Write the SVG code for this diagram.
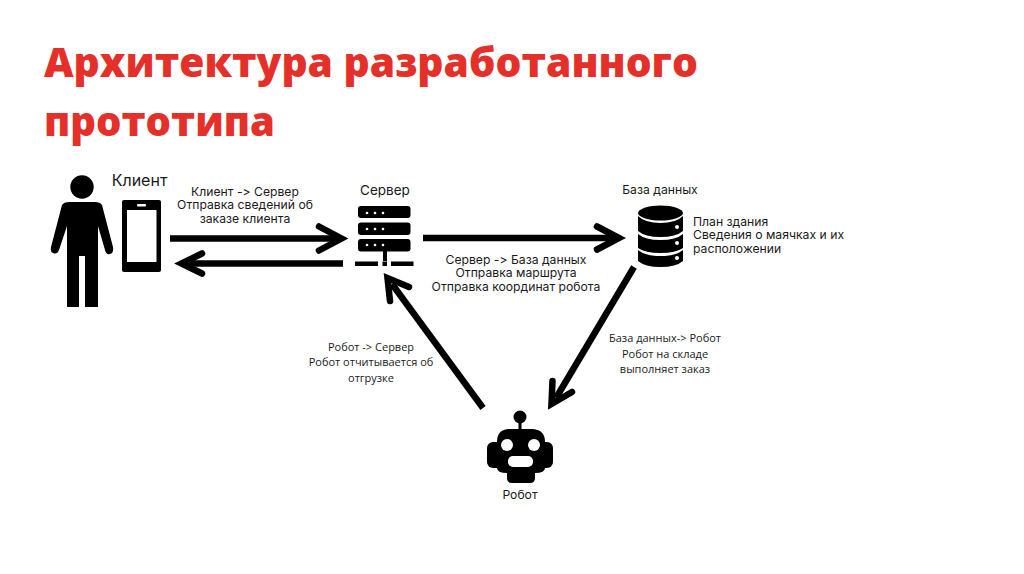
<svg xmlns="http://www.w3.org/2000/svg" width="1024" height="574" viewBox="0 0 1024 574">
<style>
.t{font-family:"Inter","Noto Sans","DejaVu Sans",sans-serif;fill:#1a1a1a;text-anchor:middle;font-size:12.2px;font-variant-ligatures:none;font-feature-settings:"calt" 0,"liga" 0}
.l{text-anchor:start}
.o{font-family:"Open Sans","Noto Sans",sans-serif;font-size:11px}
.h{font-family:"Open Sans","Noto Sans",sans-serif;font-weight:800;font-size:41.500px;fill:#e5302a}
.c{fill:none;stroke:#000;stroke-width:6.500;stroke-linejoin:miter}
.w{fill:#fff}
</style>
<rect width="1024" height="574" fill="#fff"/>
<g id="title">
<text class="h" x="44" y="77" textLength="654" lengthAdjust="spacingAndGlyphs">Архитектура разработанного</text>
<text class="h" x="44" y="136" textLength="231" lengthAdjust="spacingAndGlyphs">прототипа</text>
</g>
<g id="connectors">
<path class="c" d="M170 238.500H338"/><path class="c" stroke-linecap="round" d="M319 226.500L341.500 238.500L319 250.500"/>
<path class="c" d="M343 263.500H186"/><path class="c" stroke-linecap="round" d="M202 253.500L181.500 263.500L202 273.500"/>
<path class="c" d="M423 238H615"/><path class="c" stroke-linecap="round" d="M597 226.500L619 238L597 249.500"/>
<path class="c" d="M634 267L556 398"/><path class="c" stroke-linecap="round" d="M552.500 381L551.500 404L572 392"/>
<path class="c" d="M483 408L392 284"/><path class="c" stroke-linecap="round" d="M390 301L387.500 278L409 287"/>
</g>
<g id="client">
<circle cx="82" cy="187" r="11.700"/>
<path d="M62 205Q64 202 69 202H95Q100 202 102 205L113 247Q114 253 110 254Q106 255 105 250L98 226V307H85V256H79V307H67V226L59 250Q57 255 53 253Q50 252 51 247Z"/>
<rect x="122" y="200" width="39" height="72" rx="2"/>
<rect x="127" y="210" width="29.500" height="52" class="w"/>
<rect x="137" y="204" width="9" height="2.500" rx="1" class="w"/>
<text class="t" x="139.500" y="186" style="font-size:16px">Клиент</text>
</g>
<g id="label-client">
<text class="t" x="245" y="196">Клиент -&gt; Сервер</text>
<text class="t" x="245" y="209">Отправка сведений об</text>
<text class="t" x="245" y="223">заказе клиента</text>
</g>
<g id="server">
<text class="t" x="385" y="195" style="font-size:13.500px">Сервер</text>
<rect x="358" y="206" width="52.500" height="12" rx="3"/>
<rect x="358" y="222.500" width="52.500" height="12.500" rx="3"/>
<rect x="358" y="239" width="52.500" height="12.500" rx="3"/>
<g class="w">
<circle cx="367" cy="213" r="1.300"/><circle cx="375" cy="213" r="1.300"/><circle cx="383" cy="213" r="1.300"/>
<circle cx="367" cy="229" r="1.300"/><circle cx="375" cy="229" r="1.300"/><circle cx="383" cy="229" r="1.300"/>
<circle cx="367" cy="245" r="1.300"/><circle cx="375" cy="245" r="1.300"/><circle cx="383" cy="245" r="1.300"/>
</g>
<rect x="383" y="251" width="4" height="10"/>
<rect x="355" y="261.500" width="23" height="4.500"/>
<rect x="382.500" y="261.500" width="4.500" height="4.500"/>
<rect x="391" y="261.500" width="22.500" height="4.500"/>
</g>
<g id="database">
<text class="t" x="660" y="194">База данных</text>
<ellipse cx="660.500" cy="213" rx="22.500" ry="7.500"/>
<path d="M638 216Q645 223 660.500 223Q676 223 683 216V231Q676 237 660.500 237Q645 237 638 231Z"/>
<path d="M638 234Q645 240 660.500 240Q676 240 683 234V248Q676 253 660.500 253Q645 253 638 248Z"/>
<path d="M638 250Q645 256 660.500 256Q676 256 683 250V261Q676 267 660.500 267Q645 267 638 261Z"/>
<circle cx="677" cy="227" r="2" class="w"/><circle cx="677" cy="243" r="2" class="w"/><circle cx="677" cy="258" r="2" class="w"/>
<text class="t l" x="693" y="226">План здания</text>
<text class="t l" x="693" y="239">Сведения о маячках и их</text>
<text class="t l" x="693" y="253">расположении</text>
</g>
<g id="label-server-db">
<text class="t" x="516" y="264">Сервер -&gt; База данных</text>
<text class="t" x="516" y="277">Отправка маршрута</text>
<text class="t" x="516" y="291">Отправка координат робота</text>
</g>
<g id="label-robot-server">
<text class="t o" x="371" y="351">Робот -&gt; Сервер</text>
<text class="t o" x="371" y="366">Робот отчитывается об</text>
<text class="t o" x="371" y="382">отгрузке</text>
</g>
<g id="label-db-robot">
<text class="t o" x="665" y="342">База данных-&gt; Робот</text>
<text class="t o" x="665" y="358">Робот на складе</text>
<text class="t o" x="665" y="373">выполняет заказ</text>
</g>
<g id="robot">
<circle cx="520" cy="417" r="6.500"/>
<rect x="518.500" y="420" width="3" height="12"/>
<path d="M508 429H533Q545 430 545 442V468Q545 473 535 473V478Q535 483 530 483H512Q507 483 507 478V473Q497 473 497 468V442Q497 430 508 429Z"/>
<rect x="487" y="442" width="66" height="26" rx="6"/>
<circle cx="507" cy="445" r="6" class="w"/><circle cx="534" cy="445" r="6" class="w"/>
<rect x="508" y="456" width="25" height="11" rx="5" class="w"/>
<text class="t" x="520" y="499">Робот</text>
</g>
</svg>
